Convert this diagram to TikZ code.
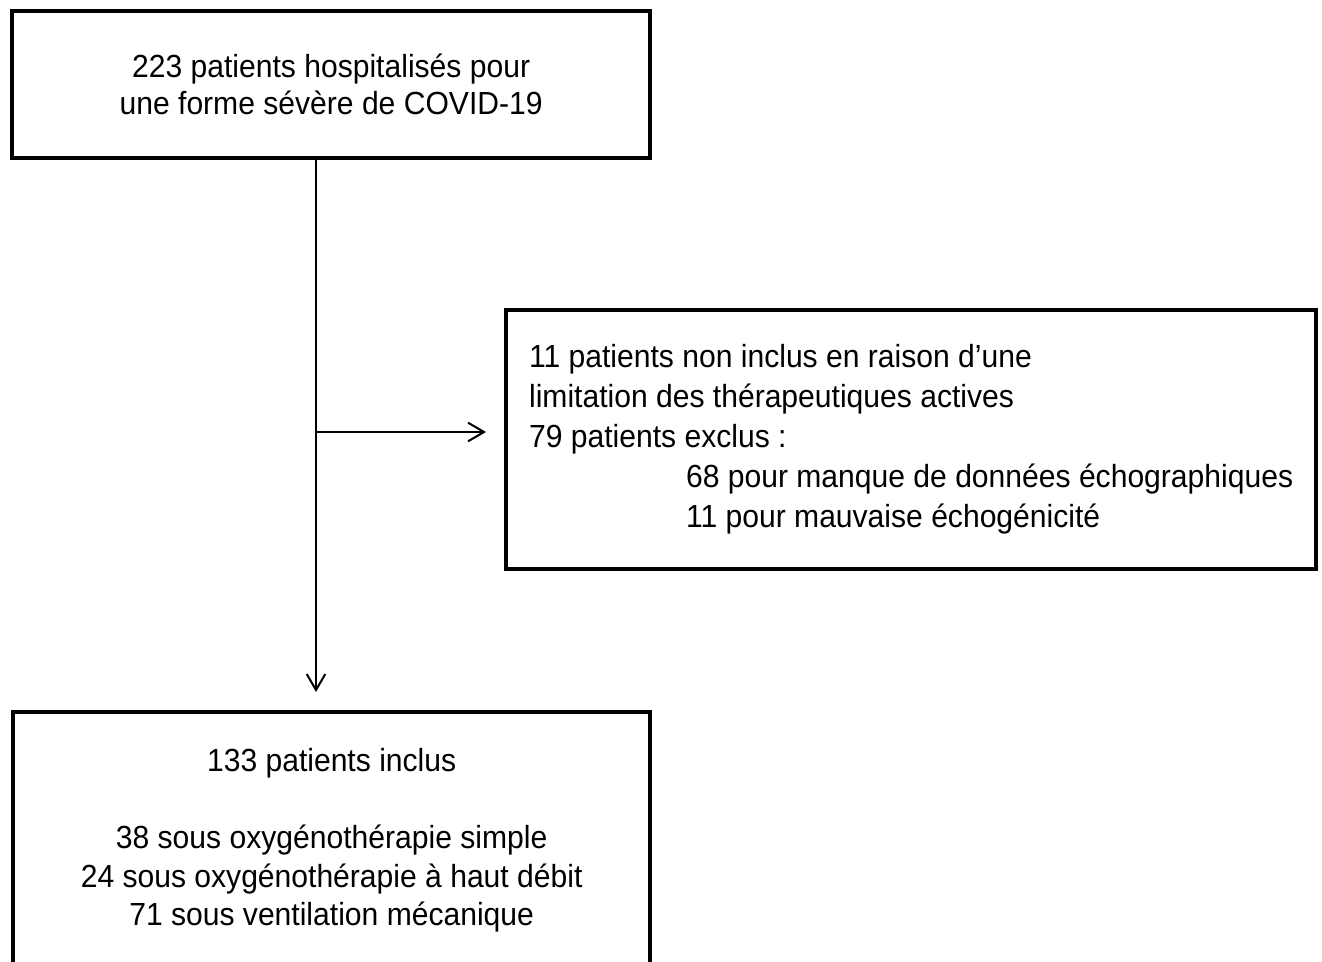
\documentclass[tikz,border=0pt]{standalone}
\usepackage{fontspec}
\setmainfont{Liberation Sans}[FakeStretch=0.94]
\usetikzlibrary{arrows.meta}

\begin{document}
\begin{tikzpicture}
        [x=0.75pt, y=-0.75pt,
        box/.style={draw=black, line width=3.2pt, inner sep=0pt, anchor=north west},
        link/.style={draw=black, line width=1.5pt},
        arrowLink/.style={link, shorten >=13.5pt, -{Straight Barb[length=12pt, width=14pt, line width=1.5pt]}},
        boxText/.style={font=\fontsize{24pt}{#1}\selectfont}]
%%
%% Page frame
%%
\useasboundingbox (0,0) rectangle (1322,962);
\clip (0,0) rectangle (1322,962);
%%
%% Boxes
%%
\node[box, boxText=27.75pt, align=center, minimum width=478.5pt, minimum height=110.25pt] (start) at (10,9)
     {223 patients hospitalisés pour\\une forme sévère de COVID-19};
\node[box, boxText=30pt, align=left, minimum width=607.5pt, minimum height=194.25pt] (excl) at (504,308)
     {11 patients non inclus en raison d’une\\
      limitation des thérapeutiques actives\\
      79 patients exclus :\\
      \hspace*{117.75pt}68 pour manque de données échographiques\\
      \hspace*{117.75pt}11 pour mauvaise échogénicité};
\node[box, boxText=29pt, align=center, minimum width=477.75pt, minimum height=192pt] (incl) at (11,710)
     {133 patients inclus\\[29pt]
      38 sous oxygénothérapie simple\\
      24 sous oxygénothérapie à haut débit\\
      71 sous ventilation mécanique};
%%
%% Connectors
%%
\coordinate (branch) at (316,432);
\draw[arrowLink] (start.south -| branch) -- (incl.north -| branch);
\draw[arrowLink] (branch) -- (excl.west |- branch);

\end{tikzpicture}
\end{document}
